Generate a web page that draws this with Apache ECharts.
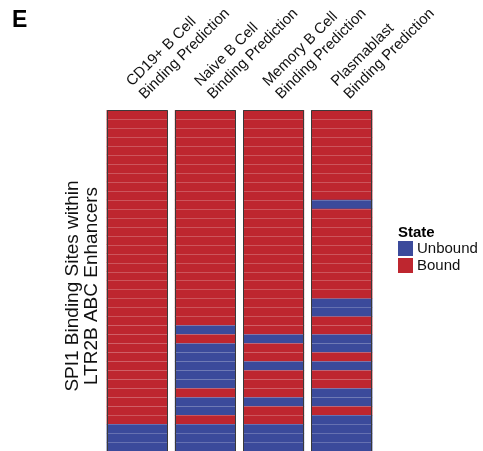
<!DOCTYPE html>
<html>
<head>
<meta charset="utf-8">
<script src="https://cdn.jsdelivr.net/npm/echarts@6/dist/echarts.min.js"></script>
<style>
  html, body { margin: 0; padding: 0; background: #fff; }
  #chart { width: 483px; height: 451px; }
</style>
</head>
<body>
<div id="chart"></div>
<script>
// Cell types (columns) and predicted binding state per SPI1 site (rows, top to bottom).
// 1 = Bound, 0 = Unbound
const columns = [
  'CD19+ B Cell\nBinding Prediction',
  'Naive B Cell\nBinding Prediction',
  'Memory B Cell\nBinding Prediction',
  'Plasmablast\nBinding Prediction'
];
const stateNames = ['Unbound', 'Bound'];
const stateColors = ['#3b4a9b', '#be262f'];

const cd19State =     [1,1,1,1,1,1,1,1,1,1, 1,1,1,1,1,1,1,1,1,1, 1,1,1,1,1,1,1,1,1,1, 1,1,1,1,1,0,0,0];
const naiveState =    [1,1,1,1,1,1,1,1,1,1, 1,1,1,1,1,1,1,1,1,1, 1,1,1,1,0,1,0,0,0,0, 0,1,0,0,1,0,0,0];
const memoryState =   [1,1,1,1,1,1,1,1,1,1, 1,1,1,1,1,1,1,1,1,1, 1,1,1,1,1,0,1,1,0,1, 1,1,0,1,1,0,0,0];
const plasmaState =   [1,1,1,1,1,1,1,1,1,1, 0,1,1,1,1,1,1,1,1,1, 1,0,0,1,1,0,0,1,0,1, 1,0,0,1,0,0,0,0];

const stateByColumn = [cd19State, naiveState, memoryState, plasmaState];
const rowNames = cd19State.map((_, i) => 'site' + (i + 1));

const cells = [];
stateByColumn.forEach((arr, c) => arr.forEach((v, r) => cells.push([c, r, v])));
const outlines = columns.map((_, c) => [c]);

const FONT = '"Liberation Sans", Arial, Helvetica, sans-serif';
const CELL_FRACTION = 0.895;
const HEADER_OFFSET_X = 11;
const HEADER_BASE_Y = 103;

const chart = echarts.init(document.getElementById('chart'), null, { renderer: 'canvas' });

const option = {
  animation: false,
  backgroundColor: '#fff',
  title: [
    { text: 'E', left: 12, top: 9, padding: 0, textStyle: { fontFamily: FONT, fontSize: 23, fontWeight: 'bold', color: '#000' } },
    { text: 'State', left: 398, top: 225, padding: 0, textStyle: { fontFamily: FONT, fontSize: 15, fontWeight: 'bold', color: '#000' } }
  ],
  grid: { left: 103, width: 273, top: 110, height: 342 },
  xAxis: {
    type: 'category',
    position: 'top',
    data: columns,
    axisLine: { show: false },
    axisTick: { show: false },
    splitLine: { show: false },
    axisLabel: { show: false }
  },
  yAxis: {
    type: 'category',
    data: rowNames,
    inverse: true,
    axisLine: { show: false },
    axisTick: { show: false },
    axisLabel: { show: false },
    splitLine: { show: false }
  },
  visualMap: {
    type: 'piecewise',
    seriesIndex: 0,
    dimension: 2,
    orient: 'vertical',
    align: 'left',
    inverse: true,
    left: 398,
    top: 241,
    padding: 0,
    itemWidth: 15,
    itemHeight: 15,
    itemGap: 2,
    itemSymbol: 'rect',
    textGap: 4,
    hoverLink: false,
    selectedMode: false,
    textStyle: { fontFamily: FONT, fontSize: 15, color: '#111' },
    pieces: [
      { value: 0, label: stateNames[0], color: stateColors[0] },
      { value: 1, label: stateNames[1], color: stateColors[1] }
    ]
  },
  graphic: [
    {
      type: 'text',
      x: 82,
      y: 286,
      rotation: Math.PI / 2,
      style: {
        text: 'SPI1 Binding Sites within\nLTR2B ABC Enhancers',
        font: '19px ' + FONT,
        lineHeight: 19,
        fill: '#111',
        textAlign: 'center',
        textVerticalAlign: 'middle'
      }
    }
  ],
  series: [
    {
      type: 'custom',
      data: cells,
      encode: { x: 0, y: 1 },
      renderItem: function (params, api) {
        const center = api.coord([api.value(0), api.value(1)]);
        const size = api.size([1, 1]);
        const w = size[0] * CELL_FRACTION;
        const h = size[1];
        const x0 = center[0] - w / 2;
        const y0 = center[1] - h / 2;
        const children = [{
          type: 'rect',
          shape: { x: x0, y: y0, width: w, height: h + 0.5 },
          style: { fill: api.visual('color') }
        }];
        if (api.value(1) > 0) {
          children.push({
            type: 'line',
            shape: { x1: x0, y1: Math.round(y0) + 0.5, x2: x0 + w, y2: Math.round(y0) + 0.5 },
            style: { stroke: 'rgba(255,255,255,0.22)', lineWidth: 1 }
          });
        }
        return { type: 'group', children: children };
      }
    },
    {
      type: 'custom',
      data: outlines,
      encode: { x: 0 },
      z: 5,
      renderItem: function (params, api) {
        const n = rowNames.length;
        const top = api.coord([api.value(0), 0]);
        const bottom = api.coord([api.value(0), n - 1]);
        const size = api.size([1, 1]);
        const w = size[0] * CELL_FRACTION;
        const x0 = top[0] - w / 2;
        const y0 = top[1] - size[1] / 2;
        const y1 = bottom[1] + size[1] / 2;
        return {
          type: 'rect',
          shape: { x: Math.round(x0) + 0.5, y: Math.round(y0) + 0.5, width: Math.round(w) - 1, height: y1 - y0 },
          style: { fill: null, stroke: '#3a3a3a', lineWidth: 1 }
        };
      }
    }
  ]
};
chart.setOption(option);

// Column headers: rotated 45°, anchored just above each column.
const headerTexts = columns.map((name, c) => ({
  type: 'text',
  x: chart.convertToPixel({ xAxisIndex: 0 }, c) + HEADER_OFFSET_X,
  y: HEADER_BASE_Y,
  rotation: Math.PI / 4,
  style: {
    text: name,
    font: '15px ' + FONT,
    lineHeight: 18,
    fill: '#111',
    textAlign: 'left',
    textVerticalAlign: 'bottom'
  }
}));
chart.setOption({ graphic: option.graphic.concat(headerTexts) });
</script>
</body>
</html>
